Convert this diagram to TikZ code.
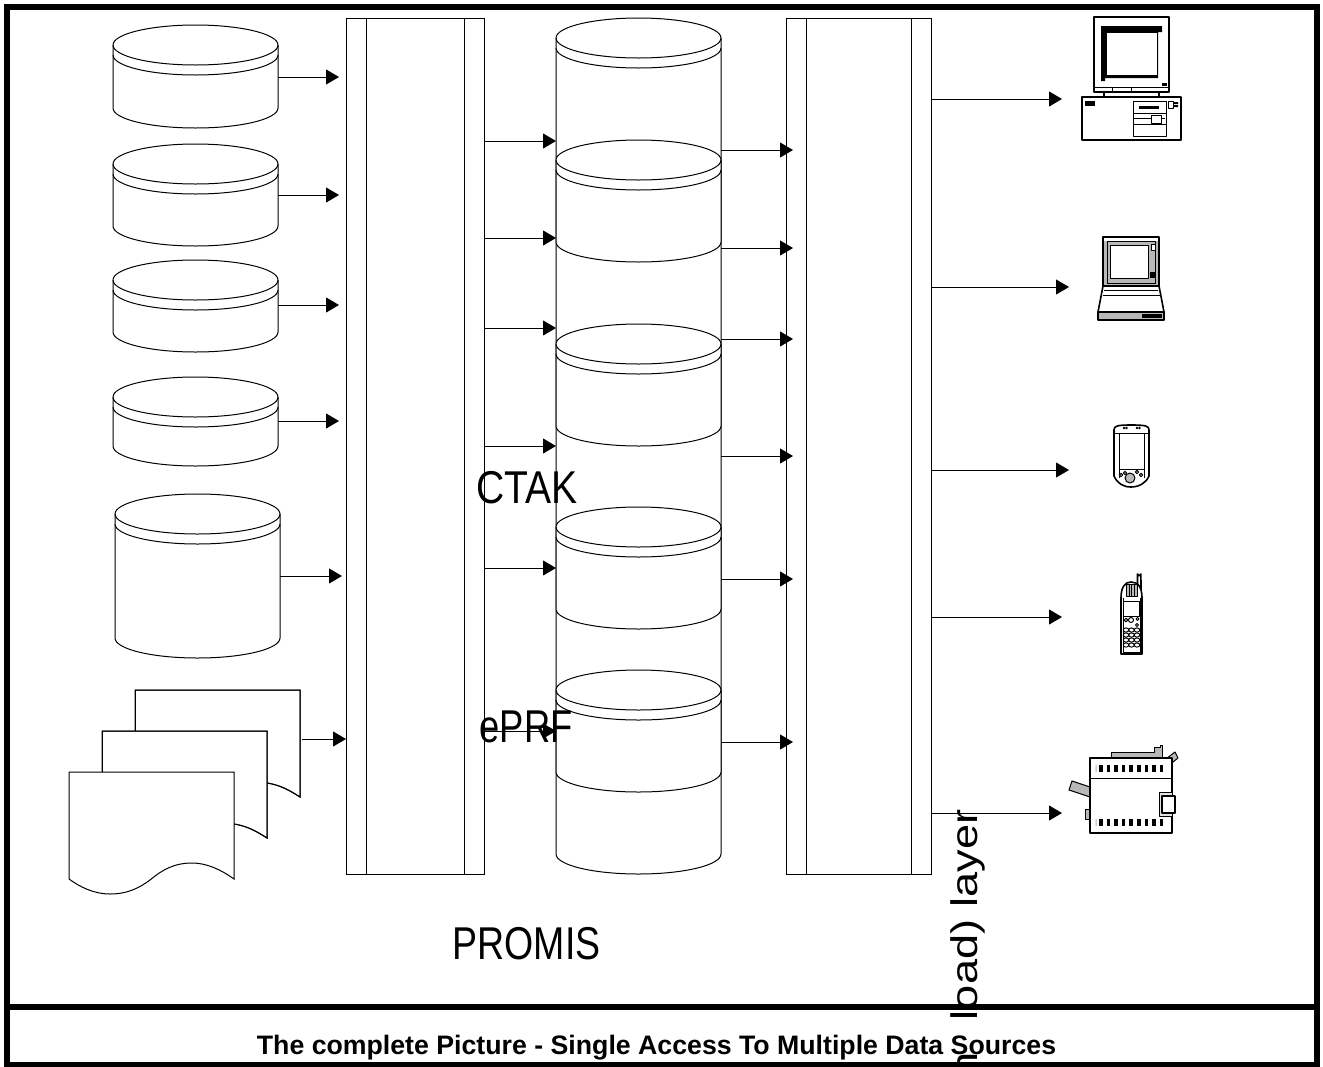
\documentclass[tikz,border=0pt]{standalone}
\usepackage{fontspec}
\setmainfont{Liberation Sans}
\usetikzlibrary{arrows.meta}
\definecolor{devgray}{gray}{0.72}
\tikzset{
  ln/.style={draw=black,line width=1pt},
  flow/.style={draw=black,line width=1pt,-{Triangle[length=13pt,width=15pt]}},
  frameline/.style={draw=black,line width=6pt},
  hit/.style={inner sep=0pt,outer sep=0pt,anchor=north west},
  layerbox/.style={draw=black,line width=1pt,fill=white,inner sep=0pt,outer sep=0pt,anchor=north west},
  bigtext/.style={inner sep=0pt,font=\fontsize{46}{46}\selectfont},
  dev/.style={draw=black,line width=1pt,line join=round},
  devthick/.style={draw=black,line width=1.6pt,line join=round}
}
% cylinder: #1 name, #2 left x, #3 top-ellipse centre y, #4 bottom-arc centre y
\newcommand{\cyl}[4]{%
  \path[ln,fill=white] (#2,#3) -- (#2,#4) arc[start angle=180,end angle=0,x radius=82.5,y radius=20] -- (#2+165,#3) arc[start angle=0,end angle=-180,x radius=82.5,y radius=20] -- cycle;
  \draw[ln] (#2,#3) arc[start angle=180,end angle=0,x radius=82.5,y radius=20];
  \draw[ln] (#2,#3+10) arc[start angle=180,end angle=0,x radius=82.5,y radius=20];
  \node[hit,minimum width=165pt,minimum height={(#4)-(#3)+40}] (#1) at (#2,#3-20) {};
}
\newcommand{\pagedoc}[3]{% name, left x, top y
  \path[ln,fill=white] (#2,#3) -- (#2+165,#3) -- (#2+165,#3+107) .. controls (#2+154,#3+100) and (#2+145,#3+95) .. (#2+132,#3+93) -- (#2,#3+93) -- cycle;
  \draw[ln] (#2,#3) -- (#2+165,#3) -- (#2+165,#3+107) .. controls (#2+154,#3+100) and (#2+145,#3+95) .. (#2+132,#3+93);
  \draw[ln] (#2,#3) -- (#2,#3+93);
  \node[hit,minimum width=165pt,minimum height=107pt] (#1) at (#2,#3) {};
}
\begin{document}
\begin{tikzpicture}[x=1pt,y=-1pt]
\useasboundingbox (0,0) rectangle (1323,1066);
\clip (0,0) rectangle (1323,1066);
% frame
\draw[frameline] (7,7) rectangle (1317,1065);
\draw[frameline] (7,1007) -- (1317,1007);

% left cylinders
\cyl{s1}{113}{45}{108}
\cyl{s2}{113}{164}{226}
\cyl{s3}{113}{280}{332}
\cyl{s4}{113}{397}{446}
\cyl{s5}{115}{514}{638}

% documents
\pagedoc{d1}{135}{690}
\pagedoc{d2}{102}{731}
\path[ln,fill=white] (69,772) -- (234,772) -- (234,879) .. controls (220,869) and (206,863) .. (192,863) .. controls (174,863) and (162,870) .. (150,880) .. controls (138,889) and (126,894) .. (110,894) .. controls (94,894) and (80,887) .. (69,879) -- cycle;
\node[hit,minimum width=165pt,minimum height=122pt] (d3) at (69,772) {};

% layer boxes
\node[layerbox,minimum width=138pt,minimum height=856pt] (etl) at (346,18) {};
\draw[ln] (366,18) -- (366,874) (464,18) -- (464,874);
\node[layerbox,minimum width=145pt,minimum height=856pt] (acc) at (786,18) {};
\draw[ln] (806,18) -- (806,874) (911,18) -- (911,874);

% middle cylinders
\cyl{big}{556}{38}{854}
\cyl{m1}{556}{160}{242}
\cyl{m2}{556}{344}{426}
\cyl{m3}{556}{527}{609}
\cyl{m4}{556}{690}{772}

% arrow ends
\coordinate (e1) at (339,77);
\coordinate (e2) at (339,195);
\coordinate (e3) at (339,305);
\coordinate (e4) at (339,421);
\coordinate (e5) at (342,576);
\draw[flow] (s1.east |- e1) -- (e1);
\draw[flow] (s2.east |- e2) -- (e2);
\draw[flow] (s3.east |- e3) -- (e3);
\draw[flow] (s4.east |- e4) -- (e4);
\draw[flow] (s5.east |- e5) -- (e5);
\coordinate (dstart) at (302,739);
\draw[flow] (dstart) -- (etl.west |- dstart);

\foreach \y in {141,238,328,446,568,731}{
  \draw[flow] (etl.east |- 0,\y) -- (big.west |- 0,\y);
}
\foreach \y in {150,248,339,456,579,742}{
  \draw[flow] (big.east |- 0,\y) -- (793,\y);
}

% device nodes
\node[hit,minimum width=99pt,minimum height=123pt] (pc) at (1082,17) {};
\node[hit,minimum width=66pt,minimum height=83pt] (lap) at (1098,237) {};
\node[hit,minimum width=35pt,minimum height=62pt] (pda) at (1114,425) {};
\node[hit,minimum width=21pt,minimum height=82pt] (phone) at (1121,572) {};
\node[hit,minimum width=109pt,minimum height=88pt] (prn) at (1069,745) {};
\coordinate (a1) at (1062,99);
\coordinate (a2) at (1069,287);
\coordinate (a3) at (1069,470);
\coordinate (a4) at (1062,617);
\coordinate (a5) at (1062,813);
\draw[flow] (acc.east |- a1) -- (a1);
\draw[flow] (acc.east |- a2) -- (a2);
\draw[flow] (acc.east |- a3) -- (a3);
\draw[flow] (acc.east |- a4) -- (a4);
\draw[flow] (acc.east |- a5) -- (a5);

% desktop computer
\draw[devthick] (1094,17) rectangle (1169,92);
\fill[black] (1101,26) -- (1162,26) -- (1162,32) -- (1158,32) -- (1158,78) -- (1105,78) -- (1105,81) -- (1101,81) -- cycle;
\draw[dev,fill=white] (1106,32) rectangle (1157,75);
\draw[dev] (1094,87) -- (1169,87);
\draw[dev] (1112,87) -- (1112,92) (1131,87) -- (1131,92);
\fill[black] (1162,83) rectangle (1167,85.5);
\draw[devthick] (1104,92) -- (1104,97) (1159,92) -- (1159,97);
\draw[devthick] (1082,97) rectangle (1181,140);
\fill[black] (1085,101) rectangle (1095,106);
\draw[dev] (1133,101) rectangle (1166,136);
\draw[dev] (1133,113) -- (1166,113) (1133,124) -- (1166,124);
\fill[black] (1139,106) rectangle (1159,109);
\draw[dev] (1133,118.5) -- (1165,118.5);
\draw[dev,fill=white] (1151,115) rectangle (1161,123);
\draw[dev] (1168,101) rectangle (1173,108);
\fill[black] (1174,102) rectangle (1178,104) (1174,105) rectangle (1178,107);

% laptop
\draw[devthick,fill=devgray] (1103,237) rectangle (1159,286);
\fill[white] (1104,238) rectangle (1158,241);
\draw[dev,fill=devgray] (1107,241) rectangle (1155,283);
\draw[dev,fill=white] (1110,245) rectangle (1148,278);
\draw[dev,fill=white] (1151,244) rectangle (1155,250);
\fill[black] (1150,272) rectangle (1155,278);
\draw[devthick,fill=white] (1103,286) -- (1159,286) -- (1164,312) -- (1098,312) -- cycle;
\draw[dev] (1104,290) -- (1158,290);
\draw[dev] (1103,295) -- (1160,295);
\draw[devthick,fill=devgray] (1098,312) rectangle (1164,320);
\fill[black] (1142,314) rectangle (1162,318);

% PDA
\draw[devthick] (1114,430) .. controls (1114,426) and (1117,425) .. (1131,425) .. controls (1146,425) and (1149,426) .. (1149,430) -- (1149,476) .. controls (1146,483) and (1139,487) .. (1131,487) .. controls (1123,487) and (1117,483) .. (1114,476) -- cycle;
\draw[dev] (1119,433) rectangle (1144,469);
\draw[dev] (1119,469) -- (1119,478) (1144,469) -- (1144,478);
\draw[dev] (1114,433) -- (1119,433) (1144,433) -- (1149,433);
\fill[black] (1124,428) circle (1.3) (1126.5,428) circle (1.3) (1137,428) circle (1.3) (1139.5,428) circle (1.3);
\draw[dev,fill=devgray] (1130,478) circle (5);
\draw[dev,fill=white] (1125,473) circle (1.7) (1121,475) circle (1.7) (1137,472) circle (1.7) (1141,475) circle (1.7);

% phone
\draw[devthick,fill=white] (1137.5,584) -- (1137.5,574) arc[start angle=180,end angle=0,radius=1.7] -- (1141,590) -- cycle;
\draw[devthick,fill=white] (1121,598) .. controls (1121,587) and (1125,582) .. (1131,582) .. controls (1138,582) and (1142,587) .. (1142,598) -- (1142,654) -- (1121,654) -- cycle;
\draw[dev,fill=devgray] (1126,584) rectangle (1137,596);
\draw[dev] (1129,584) -- (1129,596) (1131.5,584) -- (1131.5,596) (1134,584) -- (1134,596);
\draw[dev] (1123,601) rectangle (1139,616);
\draw[dev] (1123,598) -- (1123,652) -- (1140,652) -- (1140,598);
\draw[dev] (1126,620) circle (1.8) (1131,620) circle (2.5) (1137.5,619) circle (1.5) (1137,625) circle (1.5);
\foreach \py in {630,635,640,645}{
  \foreach \px in {1126,1131.5,1137}{
    \draw[dev] (\px,\py) ellipse [x radius=2.8,y radius=2.1];
  }
}

% copier
\draw[dev,fill=devgray] (1111,758) -- (1111,752) -- (1154,752) -- (1154,747) -- (1160,747) -- (1160,745) -- (1162,745) -- (1162,758) -- cycle;
\draw[dev,fill=devgray] (1167,758) -- (1175,752) -- (1178,758) -- (1173,762) -- cycle;
\draw[dev,fill=devgray] (1072,781) -- (1090,787) -- (1090,797) -- (1069,790) -- cycle;
\draw[dev,fill=devgray] (1085,809) rectangle (1090,819);
\draw[devthick,fill=white] (1090,758) rectangle (1172,833);
\draw[dev] (1090,778) -- (1172,778);
\foreach \dx in {1099,1106.6,...,1165}{
  \fill[black] (\dx,765) rectangle ++(3.6,7);
  \fill[black] (\dx,819) rectangle ++(3.6,7);
}
\fill[devgray] (1095.5,765) rectangle ++(1,7) (1095.5,819) rectangle ++(1,7);
\draw[dev,fill=devgray!40] (1159,792) rectangle (1172,816);
\draw[devthick,fill=white] (1162,796) rectangle (1175,813);

% labels
\node[bigtext,xscale=0.85] (ctak) at (527,487.5) {CTAK};
\node[bigtext,xscale=0.79] (eprf) at (526,726.5) {ePRF};
\node[bigtext,xscale=0.815] (promis) at (526.5,943.5) {PROMIS};
\node[inner sep=0pt,anchor=base east,rotate=90,xscale=1.22,font=\fontsize{37}{37}\selectfont] (upl) at (977,809) {n\hspace{.72em}load) layer};
\node[inner sep=0pt,anchor=base,font=\bfseries\fontsize{26.7}{26.7}\selectfont] (cap) at (656.5,1054) {The complete Picture - Single Access To Multiple Data Sources};
\end{tikzpicture}
\end{document}
